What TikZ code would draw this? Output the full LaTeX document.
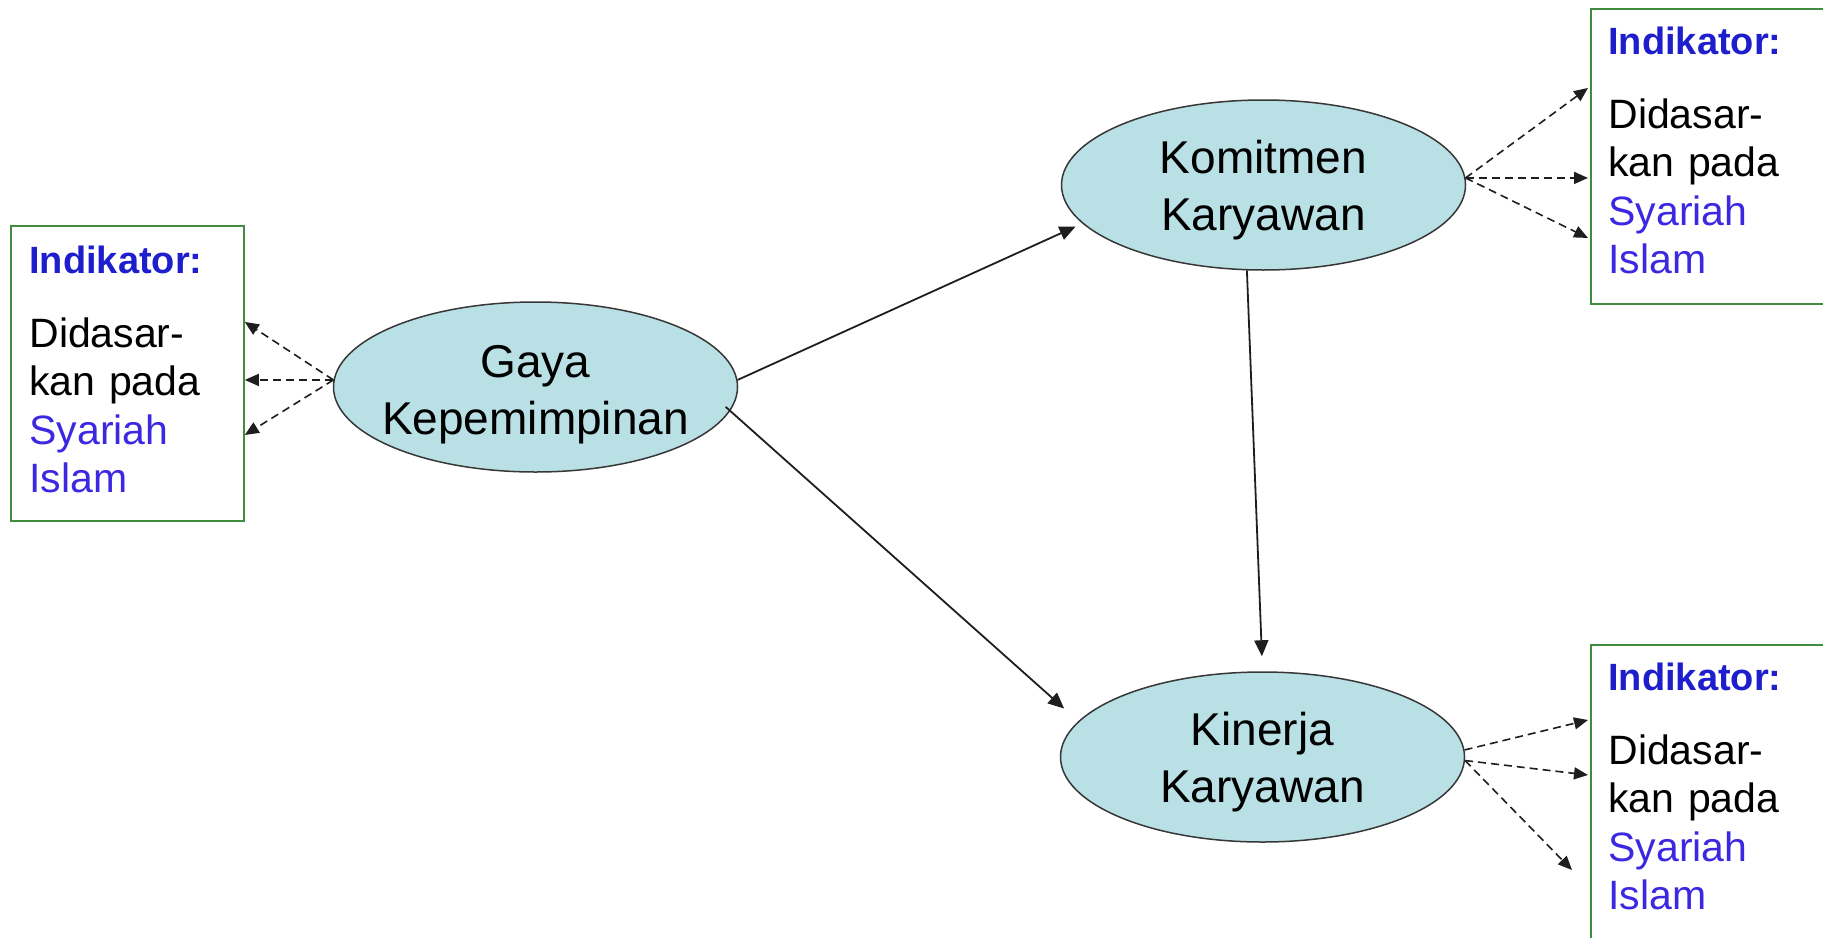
\documentclass[tikz,border=0pt]{standalone}
\usepackage{fontspec}
\setmainfont{Liberation Sans}
\usetikzlibrary{arrows.meta,shapes.geometric,calc}
\definecolor{ellfill}{RGB}{185,224,228}
\definecolor{ellline}{RGB}{55,55,55}
\definecolor{boxgreen}{RGB}{64,140,64}
\definecolor{indblue}{RGB}{30,30,205}
\definecolor{syblue}{RGB}{60,40,225}
\definecolor{arrowgray}{RGB}{30,30,30}

\begin{document}
\begin{tikzpicture}[x=0.5pt,y=-0.5pt,
  construct/.style={ellipse, draw=ellline, line width=0.75pt, fill=ellfill,
    minimum width=202pt, minimum height=85pt, inner sep=0pt},
  construct label/.style={align=center, font=\fontsize{23}{28.5}\selectfont,
    text=black, yshift=-2.5pt},
  indbox/.style={rectangle, draw=boxgreen, line width=0.9pt, minimum width=116.5pt,
    minimum height=147.5pt, inner sep=0pt, anchor=north west},
  indtext/.style={anchor=base west, inner sep=0pt, text width=110pt, align=left,
    font=\fontsize{20.5}{24.25}\selectfont},
  link/.style={draw=arrowgray, line width=0.9pt, -{Triangle[length=8pt,width=7pt]}},
  indlink/.style={draw=arrowgray, line width=0.8pt, dash pattern=on 4pt off 2.5pt,
    -{Triangle[length=7pt,width=6pt]}}
]
\useasboundingbox (0,0) rectangle (1823,937);

% latent constructs
\node[construct, label={[construct label, yshift=-1.5pt]center:{Gaya\\Kepemimpinan}}] (gaya) at (535.5,387) {};
\node[construct, label={[construct label]center:{Komitmen\\Karyawan}}] (kom) at (1263.5,185) {};
\node[construct, label={[construct label]center:{Kinerja\\Karyawan}}] (kin) at (1262.5,757) {};

% indicator boxes
\node[indbox] (lbox) at (10,225) {};
\node[indbox] (rtop) at (1590,8) {};
\node[indbox] (rbot) at (1590,644) {};

\newcommand{\indicatortext}{%
  {\color{indblue}\bfseries\fontsize{19}{24.25}\selectfont Indikator:}\\[12.75pt]
  Didasar-\\
  kan pada\\
  {\color{syblue}Syariah}\\
  {\color{syblue}Islam}}

\node[indtext] (ltext) at ($(lbox.north west)+(19,48)$) {\indicatortext};
\node[indtext] (rtoptext) at ($(rtop.north west)+(18,46)$) {\indicatortext};
\node[indtext] (rbottext) at ($(rbot.north west)+(18,46)$) {\indicatortext};

% structural paths
\draw[link, shorten >=3.75pt] (gaya.2) -- (kom.192);
\draw[link, shorten <=-3pt, shorten >=9.5pt] (gaya.-7.4) -- (kin.169);
\draw[link, shorten >=7.5pt] (kom.259.7) -- (kin.90);

% indicator links
\draw[indlink] (gaya.178) -- ($(lbox.east |- gaya.178)+(0,-58)$);
\draw[indlink] (gaya.178) -- (lbox.east |- gaya.178);
\draw[indlink] (gaya.178) -- ($(lbox.east |- gaya.178)+(0,55)$);

\draw[indlink] (kom.2) -- ($(rtop.west |- kom.2)+(-2,-90)$);
\draw[indlink] (kom.2) -- ($(rtop.west |- kom.2)+(-2,0)$);
\draw[indlink] (kom.2) -- ($(rtop.west |- kom.2)+(-2,60)$);

\draw[indlink] (kin.2) -- ($(rbot.west |- kin.east)+(-2,-37)$);
\draw[indlink] (kin.-1) -- ($(rbot.west |- kin.east)+(-2,18)$);
\draw[indlink] (kin.-1) -- ($(rbot.west |- kin.east)+(-18,113)$);
\end{tikzpicture}
\end{document}
